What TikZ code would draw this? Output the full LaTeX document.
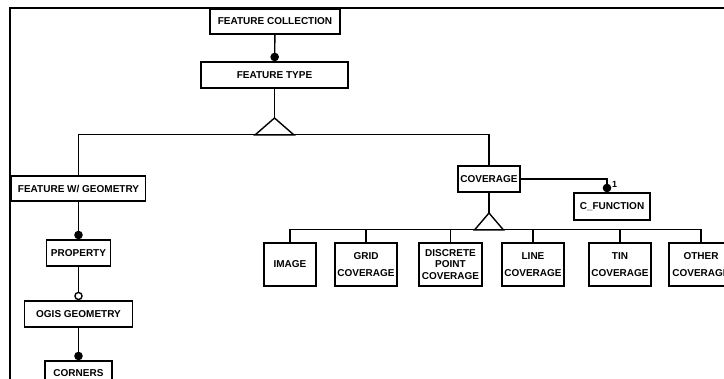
\documentclass[tikz,border=0pt]{standalone}
\usepackage{fontspec}
\setmainfont{Liberation Sans}
\usetikzlibrary{arrows.meta}
\tikzset{
	ent/.style={draw, line width=1.5pt, inner sep=1pt, align=center,
		font=\bfseries\fontsize{10}{11.5}\selectfont},
	link/.style={line width=1.4pt},
	one/.style={link, -{Circle[length=8.5pt]}},
	opt/.style={link, -{Circle[open, length=8.5pt, fill=white]}},
}
\begin{document}
\begin{tikzpicture}[x=1pt, y=-1pt]
\useasboundingbox (0,0) rectangle (724,379);
% frame
\draw[link] (10,390) -- (10,8) -- (740,8);

\node[ent, minimum width=130pt, minimum height=25pt] (fcoll) at (275,21.5) {FEATURE COLLECTION};
\node[ent, minimum width=147pt, minimum height=26pt] (ftype) at (274.5,75) {FEATURE TYPE};
\draw[one] (fcoll) -- (ftype);

% generalisation of feature type
\coordinate (tri1) at (274.5,118);
\coordinate (bus1) at (274.5,134.5);
\draw[link] (ftype) -- (tri1);
\draw[link] (tri1) -- ++(-19.5,17) -- ++(39,0) -- cycle;

% left column
\node[ent, minimum width=134pt, minimum height=25pt] (fwg) at (78.5,188.5) {FEATURE W/ GEOMETRY};
\node[ent, minimum width=64pt, minimum height=26pt] (prop) at (78.5,253) {PROPERTY};
\node[ent, minimum width=108pt, minimum height=26pt] (ogis) at (78.5,314) {OGIS GEOMETRY};
\node[ent, minimum width=67pt, minimum height=28pt] (corn) at (78.5,375) {};
\node[font=\bfseries\fontsize{10}{11.5}\selectfont, anchor=north] at (corn.north) [yshift=-6pt] {CORNERS};
\draw[one] (fwg) -- (prop);
\draw[opt] (prop) -- (ogis);
\draw[one] (ogis) -- (corn);

% coverage
\node[ent, minimum width=62pt, minimum height=26pt] (cov) at (489,179) {COVERAGE};
\node[ent, minimum width=76pt, minimum height=27pt] (cfun) at (612,206.5) {C\_FUNCTION};
\draw[link] (fwg.north) |- (bus1) -| (cov.north);
\draw[one] (cov.east) -| node[pos=0.7, right=1pt, font=\bfseries\fontsize{9}{10}\selectfont]{1} ([xshift=-5pt]cfun.north);

\coordinate (tri2) at (489,213);
\coordinate (bus2) at (489,229.5);
\draw[link] (cov) -- (tri2);
\draw[link] (tri2) -- ++(-14.5,17) -- ++(29,0) -- cycle;

\node[ent, minimum width=52pt, minimum height=43pt] (img) at (290,264.5) {IMAGE};
\node[ent, minimum width=62pt, minimum height=43pt] (grid) at (366,264.5) {GRID\\[5pt]COVERAGE};
\node[ent, minimum width=63pt, minimum height=43pt] (disc) at (450.5,264.5) {DISCRETE\\POINT\\COVERAGE};
\node[ent, minimum width=62pt, minimum height=43pt] (lcov) at (533,264.5) {LINE\\[5pt]COVERAGE};
\node[ent, minimum width=62pt, minimum height=43pt] (tin) at (620,264.5) {TIN\\[5pt]COVERAGE};
\node[ent, minimum width=64pt, minimum height=43pt] (oth) at (701,264.5) {OTHER\\[5pt]COVERAGE};

\draw[link] (img.north) |- (bus2) -| (oth.north);
\foreach \n in {grid,disc,lcov,tin}
	\draw[link] (\n.north) -- (\n.north |- bus2);
\end{tikzpicture}
\end{document}
